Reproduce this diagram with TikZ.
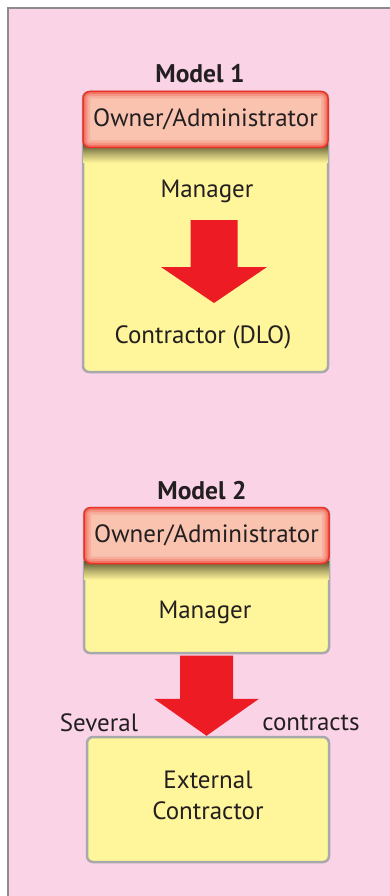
\documentclass[tikz,border=0pt]{standalone}
\usepackage{fontspec}
\setmainfont{PT Sans}
\usetikzlibrary{calc,positioning}
\definecolor{panelpink}{HTML}{FAD3E6}
\definecolor{framegray}{HTML}{8C8C8C}
\definecolor{boxyellow}{HTML}{FFF59A}
\definecolor{boxgray}{HTML}{A7A9AC}
\definecolor{ownerfill}{HTML}{F9C3B0}
\definecolor{ownerred}{HTML}{EE3124}
\definecolor{arrowred}{HTML}{ED1C24}
\definecolor{shadowolive}{HTML}{5E5A34}
\definecolor{textgray}{HTML}{231F20}
\tikzset{
  txt/.style={font=\fontsize{25}{30.6}\selectfont, text=textgray, inner sep=0pt},
  modeltitle/.style={txt, font=\bfseries\fontsize{25.5}{29}\selectfont},
  yellowbox/.style={draw=boxgray, fill=boxyellow, line width=2.5pt, rounded corners=6pt, minimum width=245pt},
  ownerbox/.style={txt, draw=ownerred, fill=ownerfill, line width=1.5pt, rounded corners=7pt,
    minimum width=245pt, minimum height=56pt,
    path picture={
      \foreach \w/\o in {14/.15, 9/.2, 5/.3}
        \draw[ownerred, line width=\w pt, opacity=\o, rounded corners=7pt]
          (path picture bounding box.south west) rectangle (path picture bounding box.north east);
    }},
  ownershadow/.style={top color=shadowolive, bottom color=boxyellow, middle color=shadowolive!45!boxyellow},
  fatarrow/.style={fill=arrowred}
}

\begin{document}
\begin{tikzpicture}[x=1pt, y=-1pt]
\useasboundingbox (0,0) rectangle (390,896);
\fill[white] (0,0) rectangle (390,896);
\fill[panelpink] (8,8) rectangle (390,896);
\draw[framegray, line width=2pt] (8,896) -- (8,8) -- (390,8);

% Model 1
\node[modeltitle] (t1) at (200,74) {Model 1};
\node[yellowbox, minimum height=280pt] (m1box) at (205.5,232) {};
\shade[ownershadow] ($(m1box.north west)+(1.25,54)$) rectangle ($(m1box.north east)+(-1.25,72)$);
\node[ownerbox, anchor=north] (m1own) at (m1box.north) {Owner/Administrator};
\node[txt] (m1mgr) at (207,191) {Manager};
\node[txt] (m1con) at (203,337.5) {Contractor (DLO)};
\coordinate (a1s) at (214,220);
\coordinate (a1e) at (214,303);
\coordinate (a1h) at ($(a1e)+(0,-36)$);
\fill[fatarrow] ($(a1s)+(-23.5,0)$) -- ($(a1s)+(23.5,0)$) -- ($(a1h)+(23.5,0)$) -- ($(a1h)+(53,0)$)
  -- (a1e) -- ($(a1h)+(-53,0)$) -- ($(a1h)+(-23.5,0)$) -- cycle;

% Model 2
\node[modeltitle] (t2) at (202,490.5) {Model 2};
\node[yellowbox, minimum height=145pt] (m2box) at (206.5,580.5) {};
\shade[ownershadow] ($(m2box.north west)+(1.25,55)$) rectangle ($(m2box.north east)+(-1.25,73)$);
\node[ownerbox, anchor=north] (m2own) at (m2box.north) {Owner/Administrator};
\node[txt] (m2mgr) at (205,612) {Manager};
\node[yellowbox, txt, align=center, minimum width=242pt, minimum height=125pt, text depth=8pt] (ext) at (208,799.5) {External\\Contractor};
\coordinate (a2s) at ($(m2box.south)+(0,1.25)$);
\coordinate (a2e) at (m2box.south |- ext.north);
\coordinate (a2h) at ($(a2e)+(0,-37)$);
\fill[fatarrow] ($(a2s)+(-26.5,0)$) -- ($(a2s)+(26.5,0)$) -- ($(a2h)+(26.5,0)$) -- ($(a2h)+(52.5,0)$)
  -- (a2e) -- ($(a2h)+(-52.5,0)$) -- ($(a2h)+(-26.5,0)$) -- cycle;
\node[txt] (sev) at (99,723) {Several};
\node[txt] (ctr) at (311,723) {contracts};
\end{tikzpicture}
\end{document}
